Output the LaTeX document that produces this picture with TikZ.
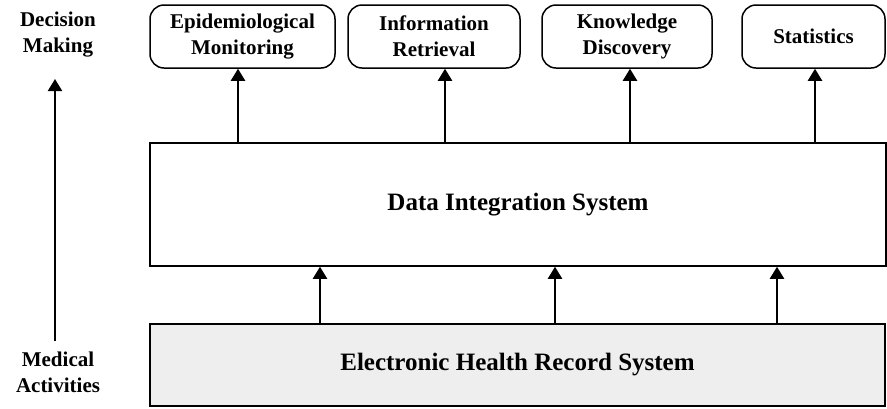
\documentclass[tikz,border=0pt]{standalone}
\usepackage{fontspec}
\setmainfont{Liberation Serif}
\usetikzlibrary{arrows.meta}
\definecolor{ehrgray}{HTML}{EEEEEE}
\begin{document}
\begin{tikzpicture}[x=1pt,y=-1pt,
  appbox/.style={draw, line width=1.5pt, rounded corners=14pt, font=\bfseries\fontsize{21}{26}\selectfont, align=center, inner sep=0pt},
  layerbox/.style={draw, line width=1.5pt, inner sep=0pt, font=\bfseries\fontsize{25}{30}\selectfont},
  sidelabel/.style={font=\bfseries\fontsize{21}{26}\selectfont, align=center},
  flow/.style={line width=2.2pt, -{Triangle[length=12pt,width=14pt]}}]
\useasboundingbox (0,0) rectangle (887,408);
% application boxes
\node[appbox, minimum width=185pt, minimum height=63pt] (epi) at (242.5,36.5) {Epidemiological\\Monitoring};
\node[appbox, minimum width=172pt, minimum height=63pt] (ir) at (434,36.5) {Information\\Retrieval};
\node[appbox, minimum width=170pt, minimum height=63pt] (kd) at (627,36.5) {Knowledge\\Discovery};
\node[appbox, minimum width=143pt, minimum height=63pt] (st) at (813.5,36.5) {Statistics};
% layers
\node[layerbox, minimum width=736pt, minimum height=123pt] (dis) at (518,204.5) {Data Integration System};
\node[layerbox, fill=ehrgray, minimum width=735pt, minimum height=82pt] (ehr) at (517.5,365) {Electronic Health Record System};
% side labels
\node[sidelabel] (dm) at (58,35) {Decision\\Making};
\node[sidelabel] (ma) at (58,372) {Medical\\Activities};
\coordinate (axb) at (55,341);
\coordinate (axt) at (55,79);
\draw[flow] (axb) -- (axt);
% arrows from the integration layer up to the applications
\draw[flow] (dis.north -| 238,0) -- (epi.south -| 238,0);
\draw[flow] (dis.north -| 445,0) -- (ir.south -| 445,0);
\draw[flow] (dis.north -| 630,0) -- (kd.south -| 630,0);
\draw[flow] (dis.north -| 815,0) -- (st.south -| 815,0);
% arrows from the record system up to the integration layer
\draw[flow] (ehr.north -| 320,0) -- (dis.south -| 320,0);
\draw[flow] (ehr.north -| 555,0) -- (dis.south -| 555,0);
\draw[flow] (ehr.north -| 777,0) -- (dis.south -| 777,0);
\end{tikzpicture}
\end{document}
